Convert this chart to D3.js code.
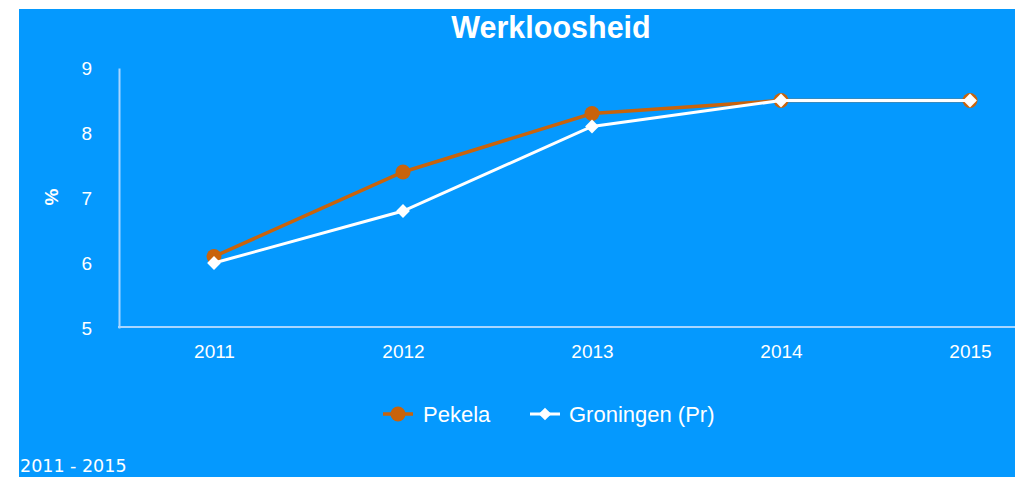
<!DOCTYPE html>
<html><head><meta charset="utf-8">
<script src="https://cdn.jsdelivr.net/npm/d3@7"></script>
<style>html,body{margin:0;padding:0;background:#fff;}svg{display:block;}</style>
</head><body>
<svg id="c" width="1015" height="477"></svg>
<script>
const years = ["2011","2012","2013","2014","2015"];
const pekela = [6.1, 7.4, 8.3, 8.5, 8.5];
const groningen = [6.0, 6.8, 8.1, 8.5, 8.5];
const yTicks = [5, 6, 7, 8, 9];
const seriesNames = ["Pekela", "Groningen (Pr)"];

const svg = d3.select("#c");
const bg = "#0599fe";
const orange = "#c9630b";
const font = "Liberation Sans, Arial, sans-serif";
svg.append("rect").attr("x",19).attr("y",9).attr("width",996).attr("height",468).attr("fill",bg);

const x = d3.scalePoint().domain(years).range([214, 970]);
const y = d3.scaleLinear().domain([5, 9]).range([328, 68]);

// title
svg.append("text").attr("x",551).attr("y",38).attr("text-anchor","middle")
  .attr("font-family",font).attr("font-weight","bold")
  .attr("font-size",30.5).attr("fill","#fff").text("Werkloosheid");

// axes
const axisColor = "#a8d6ff";
const yAxis = svg.append("g").attr("transform","translate(119,0)")
  .call(d3.axisLeft(y).tickValues(yTicks).tickSize(0).tickPadding(27).tickFormat(d3.format("d")));
yAxis.select(".domain").attr("stroke",axisColor).attr("stroke-width",2);
yAxis.selectAll("text").attr("fill","#fff").attr("font-size",19).attr("font-family",font);

const xAxis = svg.append("g").attr("transform","translate(0,327)")
  .call(d3.axisBottom(x).tickSize(0).tickPadding(18));
xAxis.select(".domain").attr("d","M118,0H1015").attr("stroke",axisColor).attr("stroke-width",2);
xAxis.selectAll("text").attr("fill","#fff").attr("font-size",19).attr("font-family",font);

// y label
svg.append("text").attr("transform","translate(58,197) rotate(-90)").attr("text-anchor","middle")
  .attr("font-family",font).attr("font-weight","bold").attr("font-size",19).attr("fill","#fff").text("%");

const line = d3.line().x((d,i)=>x(years[i])).y(d=>y(d));

// Pekela
svg.append("path").datum(pekela).attr("d",line).attr("fill","none").attr("stroke",orange).attr("stroke-width",3.5);
svg.selectAll(".pk").data(pekela).enter().append("circle")
  .attr("cx",(d,i)=>x(years[i])).attr("cy",d=>y(d)).attr("r",7.5).attr("fill",orange);

// Groningen
svg.append("path").datum(groningen).attr("d",line).attr("fill","none").attr("stroke","#fff").attr("stroke-width",3);
svg.selectAll(".gr").data(groningen).enter().append("path")
  .attr("transform",(d,i)=>`translate(${x(years[i])},${y(d)}) rotate(45)`)
  .attr("d",d3.symbol().type(d3.symbolSquare).size(95)).attr("fill","#fff");

// legend
const lg = svg.append("g");
lg.append("line").attr("x1",383).attr("x2",413).attr("y1",414).attr("y2",414).attr("stroke",orange).attr("stroke-width",3.5);
lg.append("circle").attr("cx",398).attr("cy",414).attr("r",7.5).attr("fill",orange);
lg.append("text").attr("x",423).attr("y",422).attr("font-family",font)
  .attr("font-size",22).attr("fill","#fff").text(seriesNames[0]);
lg.append("line").attr("x1",530).attr("x2",560).attr("y1",414).attr("y2",414).attr("stroke","#fff").attr("stroke-width",3);
lg.append("path").attr("transform","translate(545,414) rotate(45)").attr("d",d3.symbol().type(d3.symbolSquare).size(80)).attr("fill","#fff");
lg.append("text").attr("x",569).attr("y",422).attr("font-family",font)
  .attr("font-size",22).attr("fill","#fff").text(seriesNames[1]);

// footer
svg.append("text").attr("x",20).attr("y",472).attr("font-family","DejaVu Sans, sans-serif")
  .attr("font-size",17.5).attr("fill","#fff").text("2011 - 2015");
</script>
</body></html>
